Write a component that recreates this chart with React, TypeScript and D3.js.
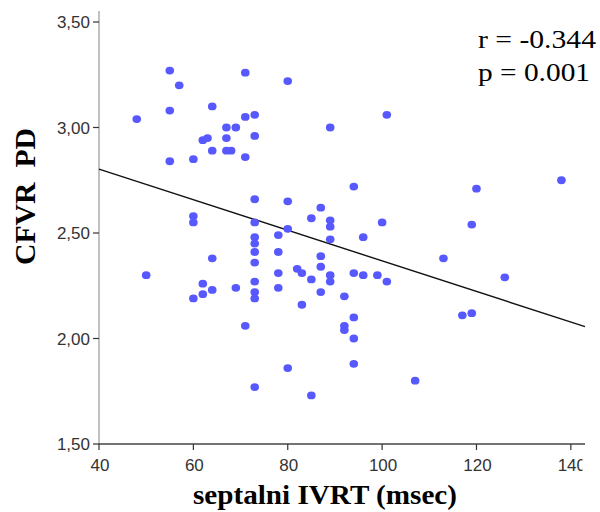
import React from "react";
import * as d3 from "d3";

const ivrt: number[] = [
  48, 50, 55, 55, 55, 57, 60, 60, 60, 60, 62, 63, 62, 62, 64, 64, 64, 64, 67, 69,
  67, 67, 68, 69, 71, 71, 71, 71, 73, 73, 73, 73, 73, 73, 73, 73, 73, 73, 73, 73,
  78, 78, 78, 78, 80, 80, 80, 80, 82, 83, 83, 85, 85, 85, 87, 87, 87, 87, 89, 89,
  89, 89, 89, 89, 92, 92, 92, 94, 94, 94, 94, 94, 96, 96, 99, 100, 101, 101, 107, 113,
  117, 119, 119, 120, 126, 138,
];
const cfvr: number[] = [
  3.04, 2.3, 3.27, 3.08, 2.84, 3.2, 2.85, 2.58, 2.55, 2.19, 2.94, 2.95, 2.26, 2.21, 3.1, 2.89, 2.38, 2.23, 3.0, 3.0,
  2.95, 2.89, 2.89, 2.24, 3.26, 3.05, 2.86, 2.06, 3.06, 2.96, 2.66, 2.55, 2.48, 2.45, 2.41, 2.36, 2.27, 2.22, 2.19, 1.77,
  2.49, 2.41, 2.31, 2.24, 3.22, 2.65, 2.52, 1.86, 2.33, 2.31, 2.16, 2.57, 2.28, 1.73, 2.62, 2.39, 2.34, 2.22, 3.0, 2.56,
  2.53, 2.47, 2.3, 2.27, 2.2, 2.06, 2.04, 2.72, 2.31, 2.1, 2.0, 1.88, 2.48, 2.3, 2.3, 2.55, 3.06, 2.27, 1.8, 2.38,
  2.11, 2.12, 2.54, 2.71, 2.29, 2.75,
];

const xTicks: number[] = [40, 60, 80, 100, 120, 140];
const yTicks: number[] = [1.5, 2.0, 2.5, 3.0, 3.5];

const fitIntercept = 3.093;
const fitSlope = -0.00725;

const annotations: string[] = ["r = -0.344", "p = 0.001"];
const xTitle = "septalni IVRT (msec)";
const yTitle = "CFVR\u00a0\u00a0PD";

export default function App() {
  const W = 600;
  const H = 512;
  const left = 99;
  const right = 585;
  const top = 11;
  const bottom = 444;

  const x = d3.scaleLinear().domain([40, 143]).range([left, right]);
  const y = d3.scaleLinear().domain([1.5, 3.5]).range([bottom, 22]);
  const fmt = (v: number) => v.toFixed(2).replace(".", ",");

  const fitX = x.domain();
  const line = d3
    .line<number>()
    .x((d) => x(d))
    .y((d) => y(fitIntercept + fitSlope * d));

  const tickFont = "'Liberation Sans', Arial, sans-serif";
  const serif = "'Liberation Serif', 'Times New Roman', serif";

  return (
    <svg
      width={W}
      height={H}
      style={{ position: "absolute", left: 0, top: 0, background: "#fff" }}
    >
      <defs>
        <clipPath id="xclip">
          <rect x={0} y={0} width={right - 2.5} height={H} />
        </clipPath>
      </defs>

      {/* y axis */}
      <line x1={left} x2={left} y1={top} y2={bottom} stroke="#a0a0a0" strokeWidth={1.3} />
      {yTicks.map((t) => (
        <g key={t}>
          <line x1={left - 6} x2={left} y1={y(t)} y2={y(t)} stroke="#333" strokeWidth={1.2} />
          <text
            x={left - 9}
            y={y(t)}
            dy="0.36em"
            textAnchor="end"
            fontFamily={tickFont}
            fontSize={17}
            fill="#333"
          >
            {fmt(t)}
          </text>
        </g>
      ))}

      {/* x axis */}
      <line x1={left} x2={right} y1={bottom} y2={bottom} stroke="#444" strokeWidth={1.3} />
      {xTicks.map((t) => (
        <line key={t} x1={x(t)} x2={x(t)} y1={bottom} y2={bottom + 6} stroke="#333" strokeWidth={1.2} />
      ))}
      <g clipPath="url(#xclip)">
        {xTicks.map((t) => (
          <text
            key={t}
            x={x(t) + 1}
            y={bottom + 27}
            textAnchor="middle"
            fontFamily={tickFont}
            fontSize={17}
            fill="#333"
          >
            {t}
          </text>
        ))}
      </g>

      {/* fit line */}
      <path d={line(fitX) || ""} fill="none" stroke="#111" strokeWidth={1.4} />

      {/* points */}
      {ivrt.map((v, i) => (
        <ellipse key={i} cx={x(v)} cy={y(cfvr[i])} rx={4.3} ry={3.9} fill="#5858ff" />
      ))}

      {/* annotations */}
      {annotations.map((a, i) => (
        <text
          key={a}
          x={478}
          y={48 + i * 33}
          fontFamily={serif}
          fontSize={26}
          fill="#000"
          textLength={i === 0 ? 118 : 112}
          lengthAdjust="spacingAndGlyphs"
        >
          {a}
        </text>
      ))}

      {/* titles */}
      <text
        x={(193 + 457) / 2}
        y={504}
        textAnchor="middle"
        fontFamily={serif}
        fontWeight="bold"
        fontSize={28}
        fill="#000"
        textLength={264}
        lengthAdjust="spacingAndGlyphs"
      >
        {xTitle}
      </text>
      <text
        transform={`translate(35, 196.5) rotate(-90)`}
        textAnchor="middle"
        fontFamily={serif}
        fontWeight="bold"
        fontSize={29}
        fill="#000"
        textLength={137}
        lengthAdjust="spacingAndGlyphs"
      >
        {yTitle}
      </text>
    </svg>
  );
}
